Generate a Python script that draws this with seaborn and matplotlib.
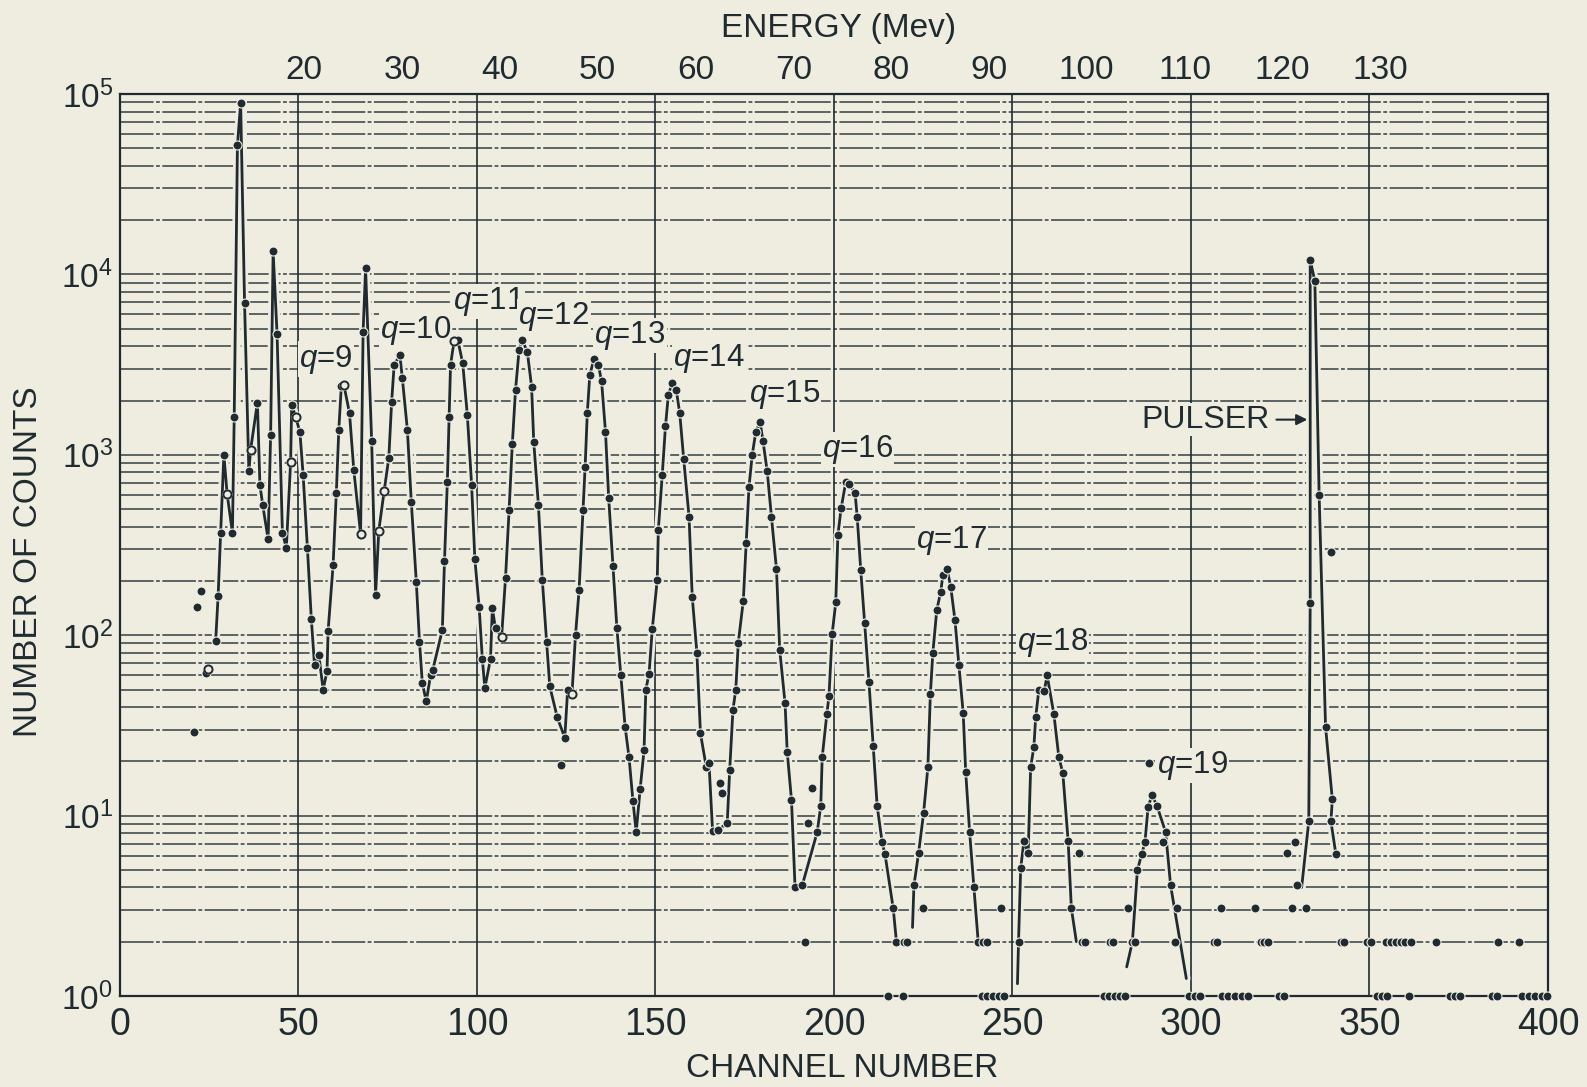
import matplotlib
matplotlib.use("Agg")
import matplotlib.pyplot as plt
import matplotlib.patheffects as pe
from matplotlib.ticker import FixedLocator, LogLocator, NullFormatter, FixedFormatter
import seaborn as sns

# ---------------- data ----------------
# main connected curve (q = 9 ... 16), channel number / counts
main_ch = [26.8, 27.5, 28.2, 29.1, 30.0, 31.5, 32.0, 32.9, 33.8, 34.9,
           36.1, 36.6, 38.5, 39.2, 40.0, 41.5, 42.2, 42.9, 44.0, 45.5,
           46.6, 47.8, 48.1, 49.2, 50.4, 51.3, 52.5, 53.6, 54.5, 55.7,
           56.9, 58.0, 58.3, 59.7, 60.6, 61.3, 62.0, 62.7, 64.3, 65.5,
           67.4, 68.1, 68.8, 70.5, 71.6, 72.5, 74.0, 75.3, 76.1, 76.8,
           78.4, 79.1, 80.5, 81.6, 83.0, 83.9, 84.7, 85.8, 87.0, 87.6,
           90.3, 90.9, 91.7, 92.2, 92.6, 93.6, 94.6, 96.0, 97.3, 98.5,
           99.4, 100.6, 101.5, 102.2, 103.8, 104.3, 105.2, 106.9, 108.0, 109.0,
           109.9, 110.8, 111.8, 112.7, 114.1, 115.3, 115.9, 117.2, 118.3, 119.5,
           120.4, 122.5, 124.6, 125.4, 126.6, 127.6, 128.6, 129.7, 130.3, 130.9,
           131.6, 132.8, 134.0, 134.9, 136.0, 136.9, 138.1, 139.2, 140.3, 141.5,
           142.6, 143.7, 144.6, 145.7, 146.8, 147.3, 148.2, 149.1, 150.5, 150.8,
           151.9, 152.8, 153.6, 154.7, 155.8, 156.8, 157.9, 159.4, 160.3, 161.6,
           162.6, 164.2, 165.0, 166.0, 167.4, 170.1, 170.8, 171.7, 172.5, 173.2,
           174.6, 175.4, 176.2, 177.1, 178.1, 179.3, 180.1, 181.3, 182.5, 183.9,
           184.8, 186.3, 186.9, 188.1, 189.1, 191.1, 195.3, 196.3, 196.7, 198.0,
           198.6, 199.5, 200.5, 201.1, 202.0, 203.3, 204.2, 205.9, 206.5, 207.5,
           208.6, 209.8, 211.0, 212.1, 213.5, 214.3, 216.6, 217.5]
main_counts = [93, 166, 370, 1000, 610, 370, 1620, 52000, 89000, 6900,
               810, 1070, 1950, 680, 525, 340, 1290, 13400, 4700, 370,
               305, 915, 1900, 1620, 1340, 775, 305, 123, 68, 78,
               50, 63, 106, 245, 615, 1380, 2400, 2450, 1700, 820,
               365, 4800, 10800, 1190, 168, 380, 630, 960, 1970, 3150,
               3570, 2650, 1380, 550, 198, 92, 54, 43, 60, 64,
               107, 257, 710, 1620, 3150, 4300, 4350, 3230, 1660, 680,
               265, 144, 74, 51, 74, 141, 109, 98, 208, 495,
               1150, 2290, 3830, 4330, 3720, 2390, 1180, 530, 203, 92,
               52, 35, 27, 50, 47, 100, 178, 495, 860, 1700,
               2770, 3410, 3150, 2560, 1340, 575, 242, 109, 60, 31,
               21, 12, 8.1, 14, 23, 50, 61, 108, 203, 383,
               775, 1440, 2140, 2500, 2300, 1700, 950, 455, 163, 80,
               28.6, 18.7, 19.5, 8.2, 8.3, 9.1, 18, 38.5, 50, 91,
               155, 325, 665, 1000, 1340, 1520, 1200, 810, 450, 232,
               83, 42, 22.6, 12.2, 4.0, 4.1, 8.1, 11.3, 21, 36.5,
               46, 102, 152, 360, 505, 705, 690, 615, 455, 230,
               117, 55, 24.3, 11.3, 7.1, 6.1, 3.06, 2.0]

# q = 17
q17_ch = [222.4, 223.7, 225.1, 226.3, 227.0, 227.7, 228.8, 229.9, 230.5, 231.7,
          232.7, 233.9, 235.0, 236.2, 236.9, 238.0, 239.2, 240.4]
q17_counts = [4.1, 6.2, 10.3, 18.5, 47, 80, 138, 174, 215, 232,
              186, 121, 68, 37, 17.5, 8.1, 4.0, 2.0]
q17_start = (222.0, 2.4)

# q = 18
q18_ch = [251.7, 252.3, 253.2, 254.4, 255.1, 256.0, 256.5, 257.4, 258.9, 259.7,
          261.6, 263.0, 264.1, 265.6, 266.5]
q18_counts = [2.0, 5.1, 7.2, 6.2, 18.6, 24, 35, 50, 49, 60,
              36.5, 21, 17.3, 7.2, 3.06]
q18_start = (251.4, 1.17)
q18_end = (267.9, 2.0)

# q = 19
q19_ch = [283.6, 285.0, 286.2, 287.1, 288.0, 289.1, 290.5, 292.9, 294.3]
q19_counts = [2.0, 5.0, 6.1, 7.1, 11.2, 13.0, 11.3, 8.1, 4.1]
q19_start = (282.0, 1.45)
q19_end = (298.7, 1.25)

# pulser
pulser_ch = [333.0, 333.4, 333.4, 334.7, 335.9, 337.7, 339.6, 339.2, 340.6]
pulser_counts = [9.3, 150, 12000, 9200, 600, 31, 12.3, 9.3, 6.1]
pulser_start = (331.0, 4.0)

# isolated points
extra_ch = [20.7, 21.5, 22.6, 24.1, 24.6, 123.4, 168.0, 168.7, 192.8, 193.9,
            224.8, 246.7, 268.6, 282.5, 288.2, 292.3, 295.6, 296.2, 308.5, 318.0,
            327.0, 329.1, 329.6, 328.2, 332.3, 339.3]
extra_counts = [29, 144, 176, 62, 65, 19, 15.2, 13.3, 9.1, 14.3,
                3.06, 3.06, 6.2, 3.06, 19.5, 7.1, 2.0, 3.06, 3.06, 3.06,
                6.2, 7.1, 4.1, 3.06, 3.06, 290]

two_ch = [192.0, 219.5, 220.5, 241.8, 242.8, 269.4, 270.3, 277.2, 278.2, 284.3,
          306.4, 307.4, 319.5, 320.5, 321.5, 341.9, 343.0, 349.4, 350.3, 354.5,
          355.9, 357.3, 358.7, 360.0, 361.5, 368.6, 386.0, 391.9]
one_ch = [215.0, 219.4, 241.6, 243.0, 244.6, 246.2, 247.6, 275.6, 277.0, 278.6,
          280.2, 281.6, 299.4, 301.0, 302.5, 308.7, 310.5, 312.4, 314.2, 316.0,
          324.6, 326.0, 352.2, 353.6, 355.0, 361.0, 372.7, 374.1, 375.5, 384.4,
          385.8, 392.8, 394.6, 396.5, 398.4, 399.8]

open_ch = [24.6, 30.0, 36.6, 47.8, 49.2, 62.7, 67.4, 72.5, 74.0, 93.6, 106.9, 126.6]
open_counts = [65, 610, 1070, 915, 1620, 2450, 365, 380, 630, 4300, 98, 47]

# labels
q_labels = ["9", "10", "11", "12", "13", "14", "15", "16", "17", "18", "19"]
q_label_ch = [50.1, 72.8, 93.2, 111.6, 132.9, 155.0, 176.2, 196.6, 223.0, 251.3, 290.4]
q_label_counts = [3390, 4900, 7100, 5850, 4580, 3440, 2160, 1070, 333, 91.6, 19.0]

x_ticks = [0, 50, 100, 150, 200, 250, 300, 350, 400]
energy_ticks = [20, 30, 40, 50, 60, 70, 80, 90, 100, 110, 120, 130]
decades = [0, 1, 2, 3, 4, 5]

# ---------------- styling ----------------
BG = "#efede0"
INK = "#1f2b30"
sns.set_theme(style="white")
plt.rcParams["font.family"] = ["Liberation Sans", "DejaVu Sans"]
plt.rcParams["mathtext.fontset"] = "custom"
plt.rcParams["mathtext.rm"] = "Liberation Sans"
plt.rcParams["mathtext.it"] = "Liberation Sans:italic"
plt.rcParams["mathtext.bf"] = "Liberation Sans:bold"
plt.rcParams["text.color"] = INK

fig = plt.figure(figsize=(15.87, 10.87), dpi=100, facecolor=BG)
ax = fig.add_axes([0.0756, 0.0837, 0.8998, 0.8298], facecolor=BG)
ax.set_yscale("log")
ax.set_xlim(0, 400)
ax.set_ylim(1, 1e5)

# grid
ax.set_axisbelow(True)
ax.yaxis.set_major_locator(LogLocator(base=10, numticks=10))
ax.yaxis.set_minor_locator(LogLocator(base=10, subs=range(2, 10), numticks=60))
ax.yaxis.set_minor_formatter(NullFormatter())
ax.grid(True, axis="y", which="both", color=INK, lw=1.1, alpha=0.9,
        linestyle=(0, (22, 1.6, 2.5, 1.6)))
ax.xaxis.set_major_locator(FixedLocator(x_ticks))
ax.grid(True, axis="x", which="major", color=INK, lw=1.2)

halo = [pe.Stroke(linewidth=6, foreground=BG), pe.Normal()]
line_kw = dict(color=INK, lw=2.0, sort=False, estimator=None, ax=ax,
               path_effects=halo, zorder=3)


def curve(ch, counts, start=None, end=None):
    xs = ([start[0]] if start else []) + list(ch) + ([end[0]] if end else [])
    ys = ([start[1]] if start else []) + list(counts) + ([end[1]] if end else [])
    sns.lineplot(x=xs, y=ys, **line_kw)


curve(main_ch, main_counts)
curve(q17_ch, q17_counts, start=q17_start)
curve(q18_ch, q18_counts, start=q18_start, end=q18_end)
curve(q19_ch, q19_counts, start=q19_start, end=q19_end)
curve(pulser_ch, pulser_counts, start=pulser_start)

dot_kw = dict(color=INK, s=42, edgecolor=BG, linewidth=0.8, zorder=4,
              clip_on=False, ax=ax, legend=False)
all_ch = main_ch + q17_ch + q18_ch + q19_ch + pulser_ch + extra_ch + two_ch + one_ch
all_counts = (main_counts + q17_counts + q18_counts + q19_counts + pulser_counts
              + extra_counts + [2.0] * len(two_ch) + [1.0] * len(one_ch))
sns.scatterplot(x=all_ch, y=all_counts, **dot_kw)
sns.scatterplot(x=open_ch, y=open_counts, color=BG, s=34, edgecolor=INK,
                linewidth=1.4, zorder=5, ax=ax, legend=False)

# ticks and labels
ax.set_xticks(x_ticks)
ax.set_xticklabels([str(t) for t in x_ticks], fontsize=27)
ax.set_yticks([10.0 ** d for d in decades])
ax.yaxis.set_major_formatter(FixedFormatter(
    [r"$\mathregular{10^{%d}}$" % d for d in decades]))
ax.tick_params(axis="x", length=0, pad=8, labelcolor=INK)
ax.tick_params(axis="y", which="both", length=0, pad=5, labelsize=24, labelcolor=INK)

for s in ax.spines.values():
    s.set_color(INK)
    s.set_linewidth(1.6)


def ch2e(c):
    return 20 + (c - 51.6) / 2.74


def e2ch(e):
    return 51.6 + (e - 20) * 2.74


sec = ax.secondary_xaxis("top", functions=(ch2e, e2ch))
sec.set_xticks(energy_ticks)
sec.set_xticklabels([str(e) for e in energy_ticks], fontsize=24, color=INK)
sec.tick_params(length=0, pad=6)
sec.spines["top"].set_visible(False)

ax.set_xlabel("CHANNEL NUMBER", fontsize=24, color=INK)
ax.xaxis.label.set_va("center")
ax.xaxis.set_label_coords(0.5056, -0.080)
ax.set_ylabel("NUMBER OF COUNTS", fontsize=24, color=INK)
ax.yaxis.label.set_va("center")
ax.yaxis.set_label_coords(-0.064, 0.481)
ax.text(0.503, 1.073, "ENERGY (Mev)", transform=ax.transAxes, fontsize=24,
        ha="center", va="center", color=INK)

box = dict(facecolor=BG, edgecolor="none", pad=1.0)
for lab, cx, cy in zip(q_labels, q_label_ch, q_label_counts):
    ax.text(cx, cy, r"$\mathit{q}$=" + lab, fontsize=22.5, ha="left", va="center",
            color=INK, bbox=box, zorder=4.5)

ax.annotate("PULSER", xy=(332.6, 1567), xytext=(286.1, 1567), fontsize=23,
            ha="left", va="center", color=INK, bbox=box, zorder=4.5,
            arrowprops=dict(arrowstyle="-|>", color=INK, lw=1.5,
                            mutation_scale=16, shrinkA=4, shrinkB=0))

fig.savefig("out.png", dpi=100, facecolor=BG)
